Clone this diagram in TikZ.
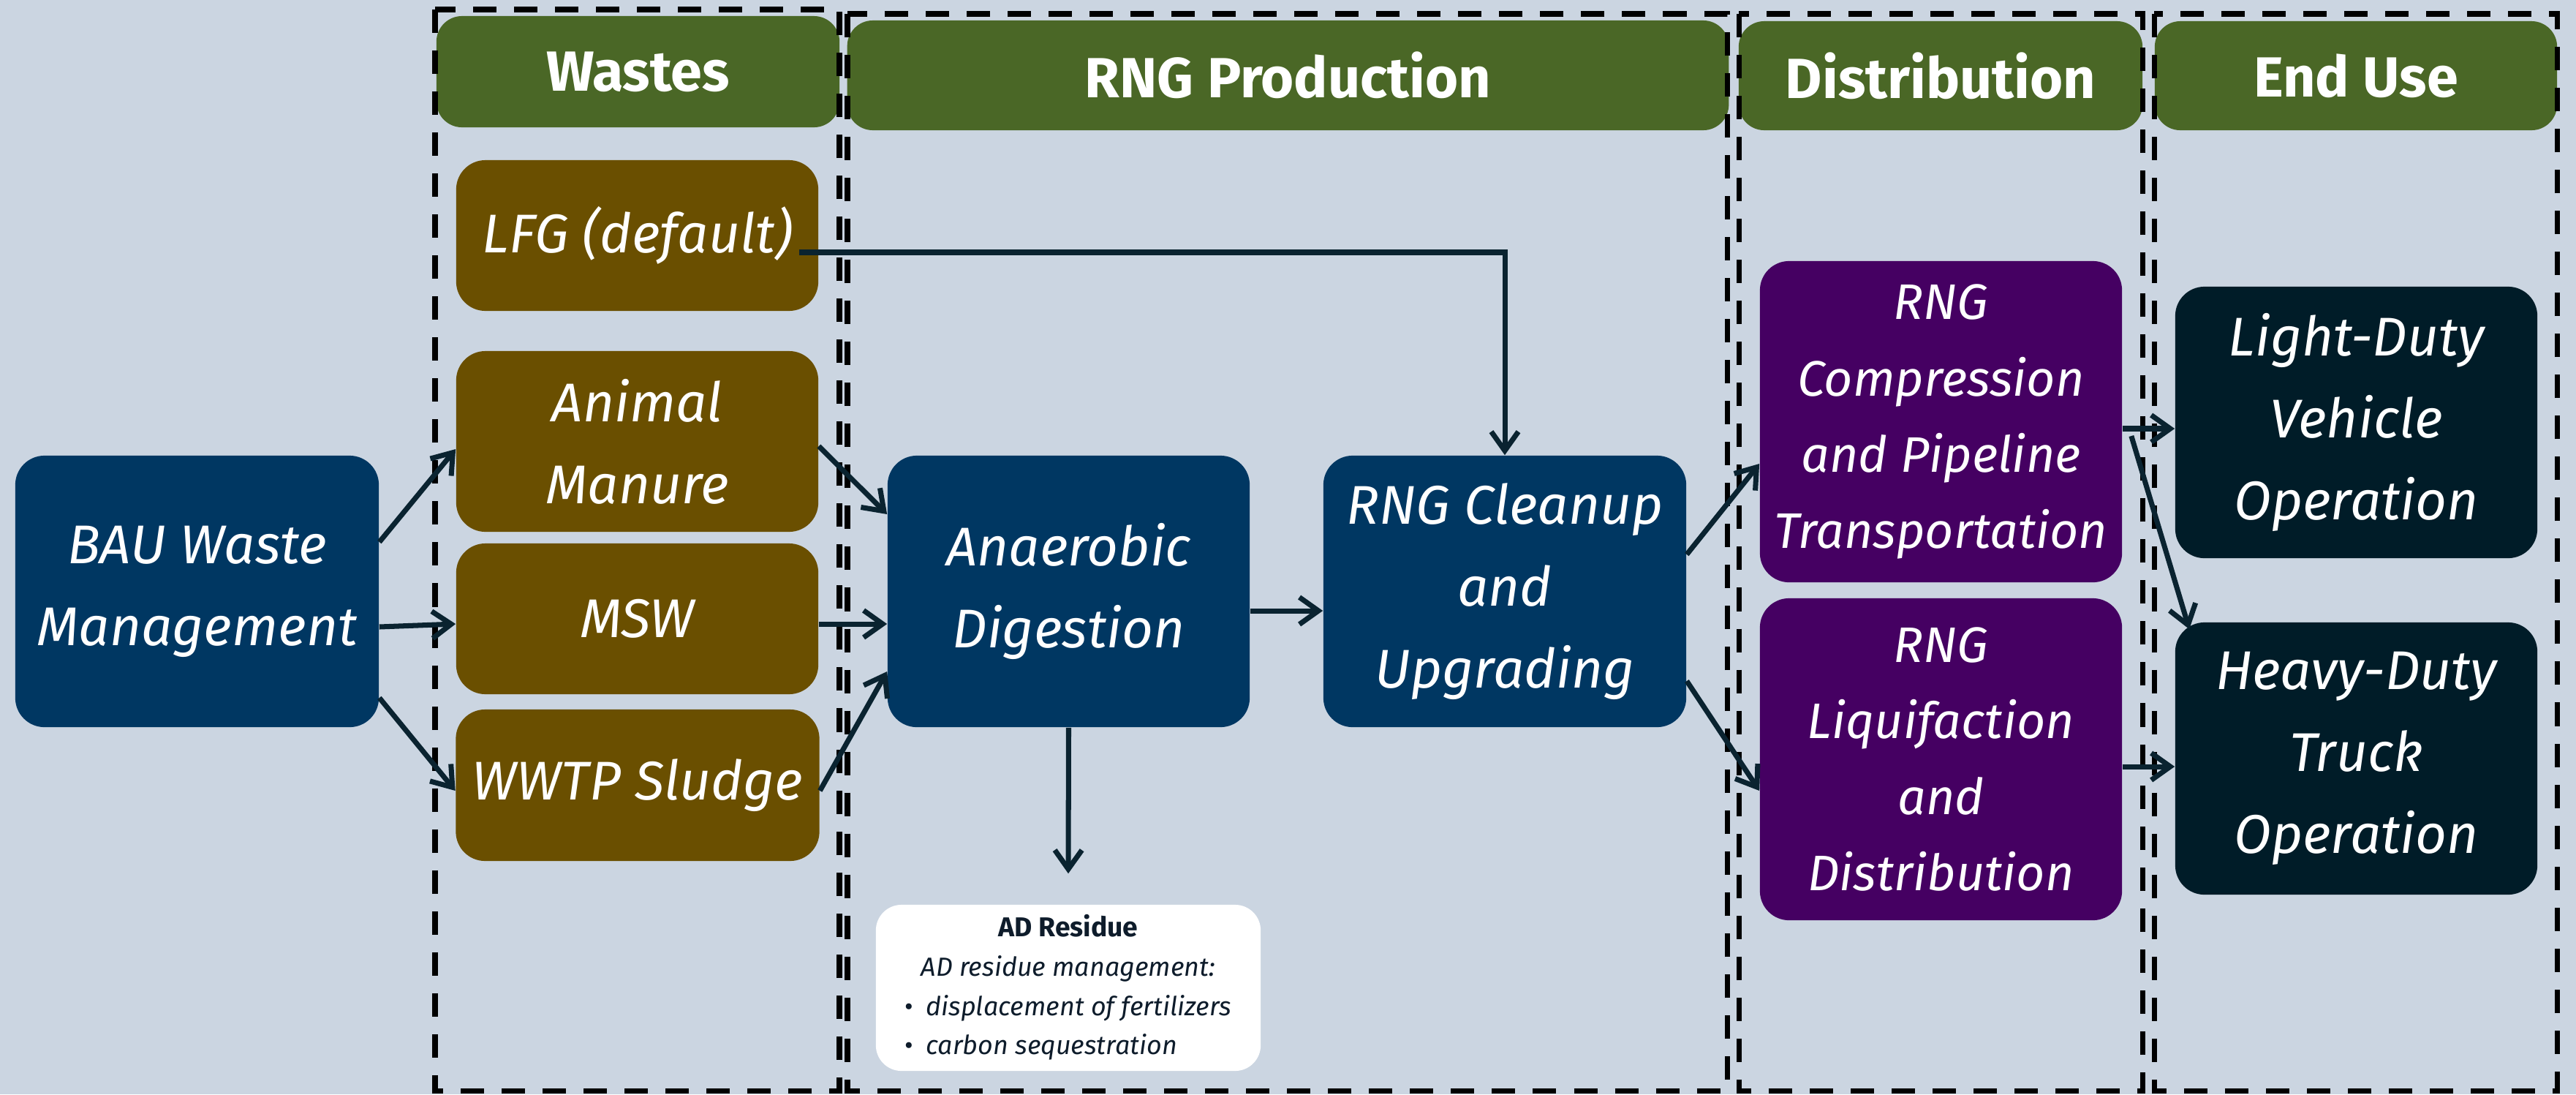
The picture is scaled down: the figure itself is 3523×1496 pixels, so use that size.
\documentclass[tikz,border=0pt]{standalone}
\usepackage{fontspec}
\setmainfont{Fira Sans}
\usetikzlibrary{arrows.meta,calc}
\definecolor{bgc}{HTML}{CBD5E1}
\definecolor{hdrc}{HTML}{4A6726}
\definecolor{brownc}{HTML}{6A4F00}
\definecolor{bluec}{HTML}{003762}
\definecolor{purplec}{HTML}{450062}
\definecolor{darkc}{HTML}{001C28}
\definecolor{arrc}{HTML}{0A2330}
\definecolor{restext}{HTML}{0E1C2B}
\begin{document}
\begin{tikzpicture}[x=0.01cm,y=-0.01cm,
  hdr/.style={fill=hdrc, rounded corners=0.35cm, text=white, inner sep=0pt,
    font=\bfseries\fontsize{22}{26}\selectfont},
  pbox/.style={rounded corners=0.4cm, text=white, align=center, inner sep=0pt,
    font=\itshape\fontsize{21.2}{31.9}\selectfont},
  brownbox/.style={pbox, fill=brownc},
  bluebox/.style={pbox, fill=bluec},
  purplebox/.style={pbox, fill=purplec, font=\itshape\fontsize{19.4}{29.6}\selectfont},
  darkbox/.style={pbox, fill=darkc},
  resbox/.style={fill=white, rounded corners=0.35cm, inner sep=0pt, text=restext,
    font=\fontsize{10.2}{15.3}\selectfont},
  arr/.style={draw=arrc, line width=2pt, -{Straight Barb[length=0.26cm,width=0.37cm]}},
  frame/.style={draw=black, line width=2pt, dash pattern=on 0.32cm off 0.24cm}
]
\fill[bgc] (0,0) rectangle (3523,1496);
\useasboundingbox (0,0) rectangle (3523,1496);

% headers
\node[hdr, minimum width=5.51cm, minimum height=1.52cm] (h1) at (872.5,98) {Wastes};
\node[hdr, minimum width=12.05cm, minimum height=1.50cm] (h2) at (1761.5,103) {RNG Production};
\node[hdr, minimum width=5.52cm, minimum height=1.49cm] (h3) at (2654,103.5) {Distribution};
\node[hdr, minimum width=5.50cm, minimum height=1.49cm] (h4) at (3222,103.5) {End Use};

% dashed frames
\draw[frame] (595,13) rectangle (1148,1491);
\draw[frame] (1159,19) rectangle (2362,1491);
\draw[frame] (2378,19) rectangle (2930,1491);
\draw[frame] (2946,19) rectangle (3497,1491);

% process boxes
\node[bluebox, minimum width=4.97cm, minimum height=3.71cm] (bau) at (269.5,808.5) {BAU Waste\\Management};
\node[brownbox, minimum width=4.95cm, minimum height=2.06cm] (lfg) at (871.5,322) {LFG (default)};
\node[brownbox, minimum width=4.95cm, minimum height=2.47cm] (am) at (871.5,603.5) {Animal\\Manure};
\node[brownbox, minimum width=4.95cm, minimum height=2.06cm] (msw) at (871.5,846) {MSW};
\node[brownbox, minimum width=4.97cm, minimum height=2.07cm] (ww) at (872,1073.5) {WWTP Sludge};
\node[bluebox, minimum width=4.95cm, minimum height=3.71cm] (ad) at (1461.5,808.5) {Anaerobic\\Digestion};
\node[bluebox, minimum width=4.96cm, minimum height=3.71cm] (cl) at (2058,808.5) {RNG Cleanup\\and\\Upgrading};
\node[purplebox, minimum width=4.95cm, minimum height=4.39cm] (comp) at (2654.5,576.5) {RNG\\Compression\\and Pipeline\\Transportation};
\node[purplebox, minimum width=4.95cm, minimum height=4.40cm] (liq) at (2654.5,1038) {RNG\\Liquifaction\\and\\Distribution};
\node[darkbox, minimum width=4.95cm, minimum height=3.71cm] (ld) at (3222.5,577.5) {Light-Duty\\Vehicle\\Operation};
\node[darkbox, minimum width=4.95cm, minimum height=3.72cm] (hd) at (3222.5,1037) {Heavy-Duty\\Truck\\Operation};
\node[resbox, minimum width=5.26cm, minimum height=2.27cm] (res) at (1461,1350.5)
  {\begin{tabular}{@{}l@{}}
   \multicolumn{1}{c}{\bfseries\fontsize{10.6}{15.3}\selectfont AD Residue}\\
   \multicolumn{1}{c}{\itshape AD residue management:}\\
   •\hspace{0.17cm}{\itshape displacement of fertilizers}\\
   •\hspace{0.17cm}{\itshape carbon sequestration}
   \end{tabular}};

% connectors
\draw[arr] ($(bau.east)+(0,-67.5)$) -- ($(am.west)+(0,10.5)$);
\draw[arr] ($(bau.east)+(0,48.5)$) -- ($(msw.west)+(0,7)$);
\draw[arr] ($(bau.east)+(0,145.5)$) -- ($(ww.west)+(0,7.5)$);
\draw[arr] ($(am.east)+(0,6.5)$) -- ($(ad.west)+(0,-105.5)$);
\draw[arr] ($(msw.east)+(0,7)$) -- ($(ad.west)+(0,44.5)$);
\draw[arr] ($(ww.east)+(0,7.5)$) -- ($(ad.west)+(0,109.5)$);
\draw[arr] ($(lfg.east)+(-27,23)$) -| (cl.north);
\draw[arr] ($(ad.east)+(0,26.5)$) -- ($(cl.west)+(0,26.5)$);
\draw[arr] (ad.south) -- ($(res.north)+(0,-42)$);
\draw[arr] ($(cl.east)+(0,-50.5)$) -- ($(comp.west)+(0,57.5)$);
\draw[arr] ($(cl.east)+(0,122.5)$) -- ($(liq.west)+(0,43)$);
\draw[arr] ($(comp.east)+(0,9.5)$) -- ($(ld.west)+(0,8.5)$);
\draw[arr] ($(comp.east)+(12,19.5)$) -- ($(hd.north west)+(20,10)$);
\draw[arr] ($(liq.east)+(0,10)$) -- ($(hd.west)+(0,11)$);
\end{tikzpicture}
\end{document}
